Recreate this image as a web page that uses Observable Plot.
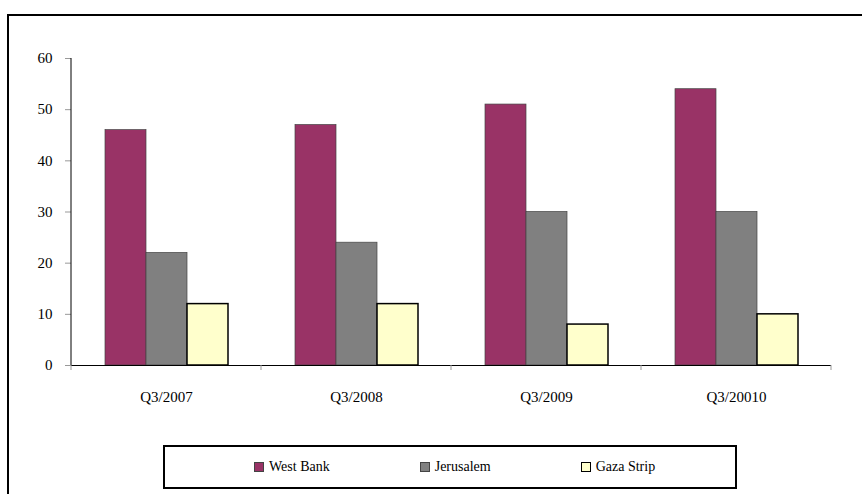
<!DOCTYPE html>
<html>
<head>
<meta charset="utf-8">
<script src="https://cdn.jsdelivr.net/npm/d3@7"></script>
<script src="https://cdn.jsdelivr.net/npm/@observablehq/plot@0.6"></script>
<style>
  html, body { margin: 0; padding: 0; background: #fff; }
  #wrap { position: relative; width: 862px; height: 494px; overflow: hidden; background: #fff;
          font-family: "Liberation Serif", serif; color: #000; }
  #chart { position: absolute; left: 0; top: 0; }
  #outer { position: absolute; left: 7px; top: 14px; width: 1000px; height: 1000px;
           border: 2px solid #000; box-sizing: border-box; }
  #legend { position: absolute; left: 163px; top: 445px; width: 574px; height: 44px;
            border: 2px solid #000; box-sizing: border-box; background: #fff;
            display: flex; align-items: center; padding-left: 89px; gap: 90px;
            font-family: "Liberation Serif", serif; font-size: 14px; }
  .item { display: flex; align-items: center; white-space: nowrap; font-family: "Liberation Serif", serif; }
  .sw { width: 10px; height: 10px; box-sizing: border-box; margin-right: 5px; }
</style>
</head>
<body>
<div id="wrap">
  <div id="outer"></div>
  <div id="chart"></div>
  <div id="legend"></div>
</div>
<script>
// Quarterly values by region
const categories = ["Q3/2007", "Q3/2008", "Q3/2009", "Q3/20010"];
const series = ["West Bank", "Jerusalem", "Gaza Strip"];
const westBank = [46, 47, 51, 54];
const jerusalem = [22, 24, 30, 30];
const gaza = [12, 12, 8, 10];
const yTicks = [0, 10, 20, 30, 40, 50, 60];

const colors = ["#993366", "#808080", "#FFFFCC"];
const outlines = ["#444", "#444", "#000"];
const outlineWidths = [0.7, 0.7, 1.5];

const values = [westBank, jerusalem, gaza];
const rows = [];
categories.forEach((c, i) => {
  series.forEach((s, j) => rows.push({ period: c, region: s, value: values[j][i] }));
});

const chart = Plot.plot({
  width: 862,
  height: 494,
  marginTop: 58,
  marginLeft: 71,
  marginRight: 31,
  marginBottom: 129,
  style: { fontFamily: "Liberation Serif", fontSize: "15px", color: "#000", background: "transparent" },
  fx: { domain: categories, paddingInner: 0, paddingOuter: 0 },
  x: { domain: series, paddingInner: 0, paddingOuter: 0.762, axis: null },
  y: { domain: [0, 60] },
  color: { domain: series, range: colors },
  marks: [
    ...series.map((s, j) => Plot.barY(rows.filter(d => d.region === s), {
      fx: "period", x: "region", y: "value", fill: "region",
      stroke: outlines[j], strokeWidth: outlineWidths[j], inset: 0
    })),
    Plot.ruleY([0], { stroke: "#000", strokeWidth: 1 }),
    Plot.axisY({ ticks: yTicks, tickSize: 6, tickPadding: 13, label: null, stroke: "#999", fill: "#000" }),
    Plot.axisFx({ anchor: "bottom", tickSize: 0, tickPadding: 26, label: null, fill: "#000" })
  ]
});

// Vertical axis line and category boundary ticks, placed through the plot's scales
const fx = chart.scale("fx");
const y = chart.scale("y");
const svg = d3.select(chart);
const x0 = fx.apply(categories[0]);
svg.append("line")
  .attr("x1", x0).attr("x2", x0)
  .attr("y1", y.apply(60)).attr("y2", y.apply(0))
  .attr("stroke", "#000").attr("stroke-width", 1);
const bounds = categories.map(c => fx.apply(c)).concat([fx.apply(categories[categories.length - 1]) + fx.step]);
svg.append("g").selectAll("line").data(bounds).join("line")
  .attr("x1", d => d).attr("x2", d => d)
  .attr("y1", y.apply(0)).attr("y2", y.apply(0) + 5)
  .attr("stroke", "#999").attr("stroke-width", 1);

document.getElementById("chart").appendChild(chart);

// Legend
const legend = d3.select("#legend");
series.forEach((s, j) => {
  const item = legend.append("div").attr("class", "item");
  item.append("div").attr("class", "sw")
    .style("background", colors[j])
    .style("border", `${j === 2 ? 1.5 : 0.7}px solid ${outlines[j]}`);
  item.append("span").text(s);
});
</script>
</body>
</html>
